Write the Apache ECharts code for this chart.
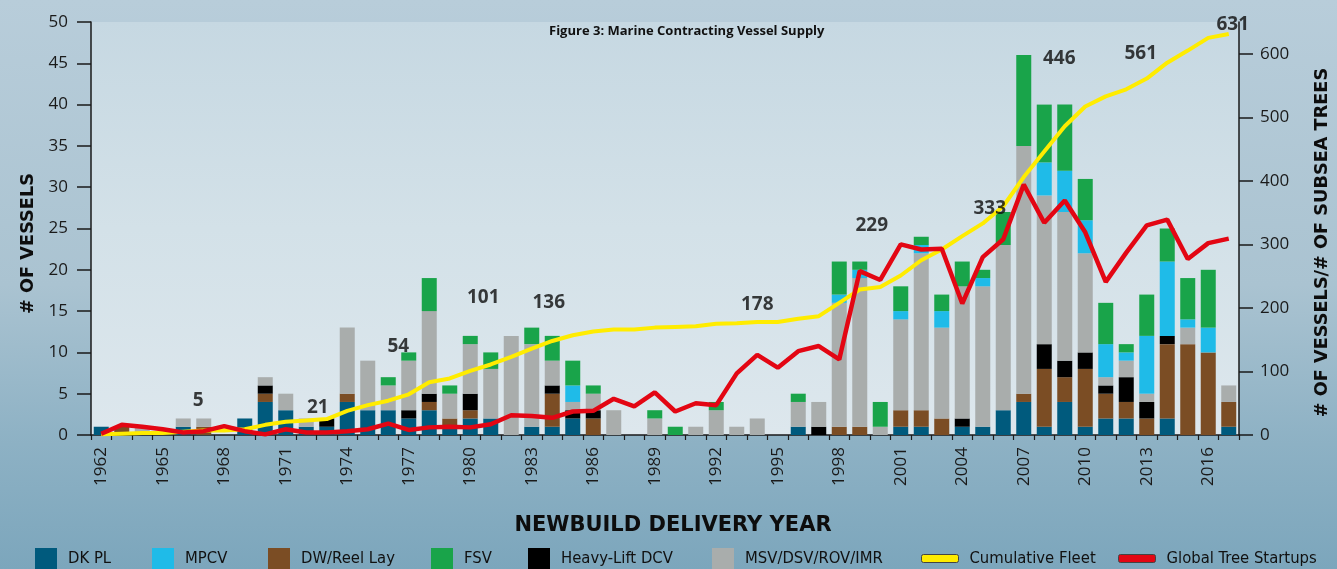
<!DOCTYPE html>
<html><head><meta charset="utf-8">
<script src="https://cdn.jsdelivr.net/npm/echarts@6/dist/echarts.min.js"></script>
<style>
html,body{margin:0;padding:0;width:1337px;height:569px;overflow:hidden;}
body{background:linear-gradient(180deg,#b8cdda 0%,#aac3d1 50%,#8db1c4 78%,#7ca6bc 100%);}
#c{width:1337px;height:569px;}
</style></head><body><div id="c"></div>
<script>
const years = ['1962','1963','1964','1965','1966','1967','1968','1969','1970','1971',
'1972','1973','1974','1975','1976','1977','1978','1979','1980','1981',
'1982','1983','1984','1985','1986','1987','1988','1989','1990','1991',
'1992','1993','1994','1995','1996','1997','1998','1999','2000','2001',
'2002','2003','2004','2005','2006','2007','2008','2009','2010','2011',
'2012','2013','2014','2015','2016','2017'];
const dkpl  = [1,0,0,0,1,0,0,2,4,3, 1,1,4,3,3,2,3,1,2,2, 0,1,1,2,0,0,0,0,0,0, 0,0,0,0,1,0,0,0,0,1, 1,0,1,1,3,4,1,4,1,2, 2,0,2,0,0,1];
const dwReel= [0,1,0,0,0,1,0,0,1,0, 0,0,1,0,0,0,1,1,1,0, 0,0,4,0,2,0,0,0,0,0, 0,0,0,0,0,0,1,1,0,2, 2,2,0,0,0,1,7,3,7,3, 2,2,9,11,10,3];
const heavy = [0,0,0,0,0,0,0,0,1,0, 0,1,0,0,0,1,1,0,2,0, 0,0,1,1,1,0,0,0,0,0, 0,0,0,0,0,1,0,0,0,0, 0,0,1,0,0,0,3,2,2,1, 3,2,1,0,0,0];
const msv   = [0,0,1,0,1,1,0,0,1,2, 1,0,8,6,3,6,10,3,6,6, 12,10,3,1,2,3,0,2,0,1, 3,1,2,0,3,3,15,18,1,11, 19,11,16,17,20,30,18,18,12,1, 2,1,0,2,0,2];
const mpcv  = [0,0,0,0,0,0,0,0,0,0, 0,0,0,0,0,0,0,0,0,0, 0,0,0,2,0,0,0,0,0,0, 0,0,0,0,0,0,1,1,0,1, 1,2,0,1,0,0,4,5,4,4, 1,7,9,1,3,0];
const fsv   = [0,0,0,0,0,0,0,0,0,0, 0,0,0,0,1,1,4,1,1,2, 0,2,3,3,1,0,0,1,1,0, 1,0,0,0,1,0,4,1,3,3, 1,2,3,1,4,11,7,8,5,5, 1,5,4,5,7,0];
const cumulativeFleet = [1,2,3,3,5,7,7,9,16,21, 23,25,38,47,54,64,83,89,101,111, 123,136,148,157,163,166,166,169,170,171, 175,176,178,178,183,187,208,229,233,251, 275,292,313,333,360,406,446,486,517,533, 544,561,586,605,625,631];
const treeStartups = [2,16,13,9,4,6,14,6,1,9, 4,4,6,9,18,8,12,13,12,17, 31,30,27,37,38,57,45,67,37,50, 47,97,126,106,132,140,119,258,244,300, 292,293,207,280,308,394,334,369,319,241, 287,330,339,277,302,309];
const annotYears = ['1966','1971','1976','1980','1983','1994','1999','2005','2008','2013','2017'];
const annotText  = ['5','21','54','101','136','178','229','333','446','561','631'];
const leftTicks  = [0,5,10,15,20,25,30,35,40,45,50];
const rightTicks = [0,100,200,300,400,500,600];

const annotOffsets = [[15,-31],[32,-14],[10,-54],[13,-73],[17,-46],[0,-17],[12,-64],[7,-15],[15,-93],[-6,-25],[4,-9]];

const C = {dk:'#005a7d', mpcv:'#1fbbe8', dw:'#7b4d24', fsv:'#19a44a', heavy:'#000000', msv:'#a9adac', yellow:'#ffec00', red:'#e30613'};
const chart = echarts.init(document.getElementById('c'), null, {renderer:'canvas'});
const tickFont = {fontFamily:'Open Sans', fontSize:17, color:'#1a1a1a'};
const nameFont = {fontFamily:"'DejaVu Sans', sans-serif", fontWeight:'bold', fontSize:17.7, color:'#0d0d0d'};
const legendFontFamily = "'DejaVu Sans Condensed', 'Liberation Sans Narrow', Roboto, sans-serif";
function barSeries(name, data, color){
  return {name, type:'bar', stack:'v', data, barWidth:15, itemStyle:{color}, silent:true};
}
function legendAt(left, name, opts){
  return Object.assign({left, top:548, padding:0, itemWidth:22, itemHeight:22, icon:'rect', selectedMode:false,
    textStyle:{fontFamily:legendFontFamily, fontSize:16.5, color:'#111', padding:[0,0,0,6]}, data:[name]}, opts||{});
}
const lineLegendText = {fontFamily:legendFontFamily, fontSize:16.5, color:'#111', padding:[0,0,0,6]};
const option = {
  animation:false,
  backgroundColor:'transparent',
  title:{text:'Figure 3: Marine Contracting Vessel Supply', left:544, top:20,
    textStyle:{fontFamily:'Open Sans', fontWeight:'bold', fontSize:13, color:'#111'}},
  grid:{left:91, right:98, top:22, bottom:134, outerBoundsMode:'none', containLabel:false, show:true, borderWidth:0,
    backgroundColor:new echarts.graphic.LinearGradient(0,0,0,1,[{offset:0,color:'#c6d8e2'},{offset:0.5,color:'#d3e1e8'},{offset:1,color:'#dde7ed'}])},
  legend:[
    legendAt(35,'DK PL'),
    legendAt(152,'MPCV'),
    legendAt(268,'DW/Reel Lay'),
    legendAt(431,'FSV'),
    legendAt(528,'Heavy-Lift DCV'),
    legendAt(712,'MSV/DSV/ROV/IMR'),
    legendAt(921,'Cumulative Fleet',{itemWidth:37, itemHeight:8, icon:'roundRect', top:550, textStyle:lineLegendText,
      data:[{name:'Cumulative Fleet', itemStyle:{color:C.yellow, borderColor:'#444', borderWidth:1}}]}),
    legendAt(1118,'Global Tree Startups',{itemWidth:37, itemHeight:8, icon:'roundRect', top:550, textStyle:lineLegendText,
      data:[{name:'Global Tree Startups', itemStyle:{color:C.red, borderColor:'#444', borderWidth:1}}]})
  ],
  xAxis:{type:'category', data:years, boundaryGap:true,
    name:'NEWBUILD DELIVERY YEAR', nameLocation:'middle', nameGap:80,
    nameTextStyle:Object.assign({}, nameFont, {fontSize:21, padding:[0,0,0,16]}),
    axisLine:{lineStyle:{color:'#1a1a1a', width:1.5}},
    axisTick:{show:true, interval:0, length:5, lineStyle:{color:'#1a1a1a', width:1.2}},
    axisLabel:Object.assign({interval:2, rotate:90, margin:12}, tickFont),
    splitLine:{show:false}},
  yAxis:[
    {type:'value', min:0, max:50, interval:5, position:'left',
     name:'# OF VESSELS', nameLocation:'middle', nameRotate:90, nameGap:53,
     nameTextStyle:Object.assign({}, nameFont, {padding:[0,30,0,0]}),
     axisLine:{show:true, lineStyle:{color:'#1a1a1a', width:1.5}},
     axisTick:{show:true, length:14, inside:false, lineStyle:{color:'#1a1a1a', width:1.5}},
     axisLabel:Object.assign({margin:23}, tickFont), splitLine:{show:false}},
    {type:'value', min:0, max:650, interval:100, position:'right',
     name:'# OF VESSELS/# OF SUBSEA TREES', nameLocation:'middle', nameRotate:90, nameGap:74,
     nameTextStyle:Object.assign({}, nameFont, {padding:[0,28,0,0]}),
     axisLine:{show:true, lineStyle:{color:'#1a1a1a', width:1.5}},
     axisTick:{show:true, length:14, inside:false, customValues:rightTicks, lineStyle:{color:'#1a1a1a', width:1.5}},
     axisLabel:Object.assign({margin:21, customValues:rightTicks}, tickFont), splitLine:{show:false}}
  ],
  series:[
    barSeries('DK PL', dkpl, C.dk),
    barSeries('DW/Reel Lay', dwReel, C.dw),
    barSeries('Heavy-Lift DCV', heavy, C.heavy),
    barSeries('MSV/DSV/ROV/IMR', msv, C.msv),
    barSeries('MPCV', mpcv, C.mpcv),
    barSeries('FSV', fsv, C.fsv),
    {name:'Cumulative Fleet', type:'line', yAxisIndex:1, data:cumulativeFleet, symbol:'none', silent:true,
     itemStyle:{color:C.yellow}, lineStyle:{color:C.yellow, width:4}, z:5},
    {name:'Global Tree Startups', type:'line', yAxisIndex:1, data:treeStartups, symbol:'none', silent:true,
     itemStyle:{color:C.red}, lineStyle:{color:C.red, width:4.5}, z:6},
    {name:'annot', type:'scatter', yAxisIndex:1, symbolSize:1, silent:true, z:7,
     itemStyle:{color:'rgba(0,0,0,0)'},
     data:annotYears.map((y,i)=>({value:[y, cumulativeFleet[years.indexOf(y)]], label:{offset:annotOffsets[i]}})),
     label:{show:true, position:'inside', formatter:p=>annotText[p.dataIndex],
       fontFamily:'Noto Sans', fontWeight:'bold', fontSize:19, color:'#0d0d0d'}}
  ]
};
chart.setOption(option);
</script></body></html>
